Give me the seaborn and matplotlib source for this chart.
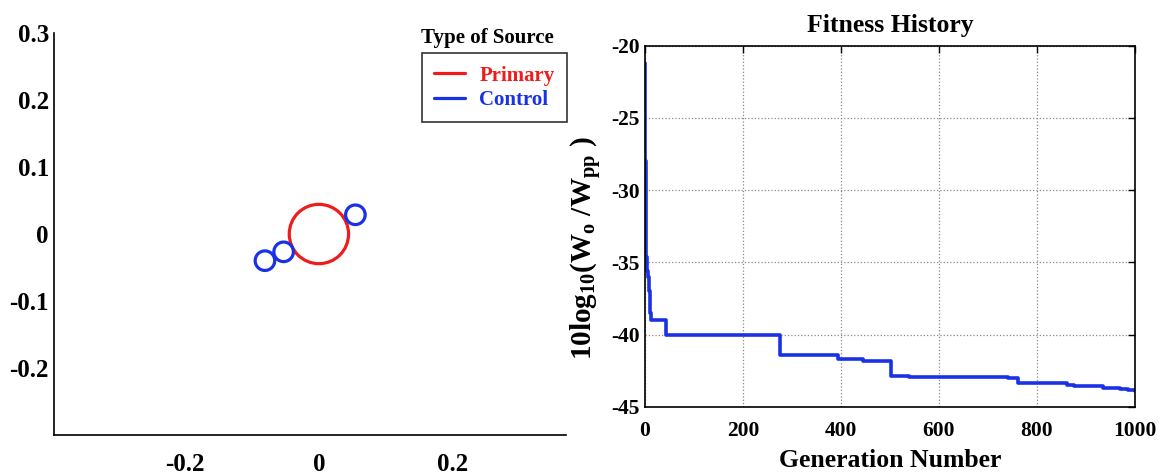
import seaborn as sns
import matplotlib.pyplot as plt
import pandas as pd
from matplotlib.patches import Circle
from matplotlib.lines import Line2D

# ---- data: source layout (left) ----
source_type = ["Primary", "Control", "Control", "Control"]
source_x = [0.0, 0.0545, -0.0527, -0.0806]
source_y = [0.0, 0.0287, -0.0266, -0.0398]
source_r = [0.0443, 0.0146, 0.0146, 0.0146]

# ---- data: fitness history (right) ----
generation = [0, 1, 2, 4, 6, 8, 10, 12, 43, 276, 393, 444, 502, 539, 740, 762,
              862, 876, 917, 934, 950, 970, 985, 1000]
fitness = [-21.2, -28.0, -34.6, -35.6, -36.0, -37.0, -38.5, -39.0, -40.0, -41.43,
           -41.66, -41.8, -42.83, -42.95, -43.0, -43.34, -43.47, -43.52, -43.58,
           -43.67, -43.72, -43.78, -43.83, -43.9]

left_xticks = [-0.2, 0, 0.2]
left_xticklabels = ["-0.2", "0", "0.2"]
left_yticks = [-0.2, -0.1, 0, 0.1, 0.2, 0.3]
left_yticklabels = ["-0.2", "-0.1", "0", "0.1", "0.2", "0.3"]
right_xticks = [0, 200, 400, 600, 800, 1000]
right_yticks = [-45, -40, -35, -30, -25, -20]

RED = "#ee1c1c"
BLUE = "#1a32e6"
colors = {"Primary": RED, "Control": BLUE}

sns.set_theme(style="white")
plt.rcParams["font.family"] = ["Liberation Serif", "DejaVu Serif"]
plt.rcParams["font.weight"] = "bold"
plt.rcParams["text.color"] = "black"
plt.rcParams["axes.labelcolor"] = "black"
plt.rcParams["axes.unicode_minus"] = False
plt.rcParams["mathtext.fontset"] = "custom"
plt.rcParams["mathtext.rm"] = "Liberation Serif:bold"
plt.rcParams["mathtext.it"] = "Liberation Serif:bold"
plt.rcParams["mathtext.bf"] = "Liberation Serif:bold"

fig = plt.figure(figsize=(11.64, 4.74), dpi=100)
axL = fig.add_axes([0.0468, 0.0823, 0.4394, 0.848])
axR = fig.add_axes([0.5541, 0.1414, 0.421, 0.7622])

# ---- left panel ----
for t, x, y, r in zip(source_type, source_x, source_y, source_r):
    axL.add_patch(Circle((x, y), r, fill=False, ec=colors[t], lw=2.3))
axL.set_xlim(-0.395, 0.369)
axL.set_ylim(-0.3, 0.3)
axL.set_xticks(left_xticks)
axL.set_xticklabels(left_xticklabels)
axL.set_yticks(left_yticks)
axL.set_yticklabels(left_yticklabels)
for s in ["top", "right"]:
    axL.spines[s].set_visible(False)
for s in ["left", "bottom"]:
    axL.spines[s].set_color("black")
    axL.spines[s].set_linewidth(1.2)
axL.tick_params(axis="both", direction="in", length=5, width=1, color="black",
                labelsize=18, labelcolor="black")
axL.tick_params(axis="x", pad=13)
axL.tick_params(axis="y", pad=4)
for lab in axL.get_xticklabels() + axL.get_yticklabels():
    lab.set_fontweight("bold")

handles = [Line2D([], [], color=RED, lw=2.3), Line2D([], [], color=BLUE, lw=2.3)]
leg = axL.legend(handles, ["Primary", "Control"], loc="upper right",
                 bbox_to_anchor=(1.002, 0.950), fontsize=15, frameon=True,
                 fancybox=False, edgecolor="black", handlelength=1.45,
                 handletextpad=0.7, borderaxespad=0, labelcolor="linecolor",
                 borderpad=0.6, labelspacing=0.2)
leg.get_frame().set_linewidth(1.2)
for txt in leg.get_texts():
    txt.set_fontweight("bold")
axL.text(0.8465, 0.9876, "Type of Source", transform=axL.transAxes, ha="center",
         va="center", fontsize=15, fontweight="bold", color="black")

# ---- right panel ----
df = pd.DataFrame({"Generation": generation, "Fitness": fitness})
sns.lineplot(data=df, x="Generation", y="Fitness", ax=axR, color=BLUE, lw=2.6,
             drawstyle="steps-post", estimator=None, sort=False)
axR.set_xlim(0, 1000)
axR.set_ylim(-45, -20)
axR.set_xticks(right_xticks)
axR.set_yticks(right_yticks)
axR.grid(True, ls=":", color="#888888", lw=0.9)
for s in axR.spines.values():
    s.set_visible(True)
    s.set_color("black")
    s.set_linewidth(1.2)
axR.tick_params(axis="both", direction="in", length=5, width=1, color="black",
                labelsize=15.5, labelcolor="black", top=True, right=True)
axR.tick_params(axis="x", pad=10)
axR.tick_params(axis="y", pad=4)
for lab in axR.get_xticklabels() + axR.get_yticklabels():
    lab.set_fontweight("bold")
axR.set_title("Fitness History", fontsize=18.5, fontweight="bold", pad=10,
              color="black")
axR.set_xlabel("Generation Number", fontsize=18.5, fontweight="bold", labelpad=6)
axR.set_ylabel(r"10log$_{10}$(W$_{o}$ /W$_{pp}$ )", fontsize=21,
               fontweight="bold")
axR.yaxis.set_label_coords(-0.084, 0.44)

fig.savefig("out.png", dpi=100, facecolor="white")
